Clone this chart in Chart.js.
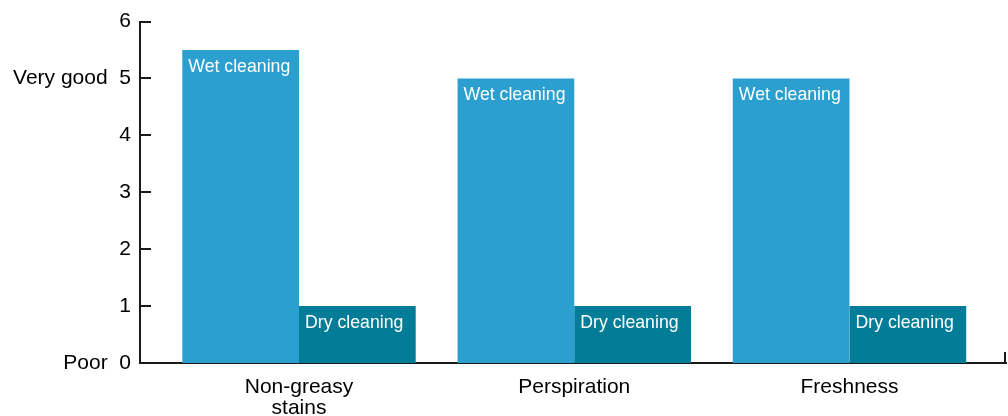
<!DOCTYPE html>
<html>
<head>
<meta charset="utf-8">
<script src="https://cdn.jsdelivr.net/npm/chart.js@4"></script>
<style>
  html, body { margin: 0; padding: 0; background: #fff; }
  #wrap { width: 1008px; height: 416px; position: relative; }
</style>
</head>
<body>
<div id="wrap"><canvas id="c"></canvas></div>
<script>
// ---- data ----
const categories = [["Non-greasy", "stains"], "Perspiration", "Freshness"];
const seriesNames = ["Wet cleaning", "Dry cleaning"];
const wetValues = [5.5, 5, 5];
const dryValues = [1, 1, 1];
const yTickLabels = { 0: "Poor  0", 5: "Very good  5" };

const FONT = "'Liberation Sans', Arial, Helvetica, sans-serif";
const AXIS_COLOR = "#1a1a1a";

// positions of categories on the linear index axis
const catIdx = categories.map((_, i) => i);

const barLabelPlugin = {
  id: 'barLabels',
  afterDatasetsDraw(chart) {
    const ctx = chart.ctx;
    ctx.save();
    ctx.fillStyle = '#ffffff';
    ctx.font = "17.7px " + FONT;
    ctx.textAlign = 'left';
    ctx.textBaseline = 'alphabetic';
    chart.data.datasets.forEach((ds, di) => {
      const meta = chart.getDatasetMeta(di);
      meta.data.forEach(bar => {
        const left = bar.x - bar.width / 2;
        ctx.fillText(ds.label, left + 6, bar.y + 21.5);
      });
    });
    ctx.restore();
  }
};

const axisDecorPlugin = {
  id: 'axisDecor',
  afterDraw(chart) {
    const ctx = chart.ctx;
    const y = chart.scales.y;
    const ca = chart.chartArea;
    ctx.save();
    ctx.strokeStyle = AXIS_COLOR;
    ctx.lineWidth = 2;
    ctx.beginPath();
    y.ticks.forEach(t => {
      const py = Math.round(y.getPixelForValue(t.value));
      ctx.moveTo(ca.left, py);
      ctx.lineTo(ca.left + 11, py);
    });
    // small end tick at right end of x axis
    ctx.moveTo(ca.right - 1, ca.bottom);
    ctx.lineTo(ca.right - 1, ca.bottom - 11);
    ctx.stroke();
    ctx.restore();
  }
};

new Chart(document.getElementById('c'), {
  type: 'bar',
  data: {
    datasets: [
      {
        label: seriesNames[0],
        data: catIdx.map((c, i) => ({ x: c, y: wetValues[i] })),
        backgroundColor: '#2b9fd0',
        borderWidth: 0
      },
      {
        label: seriesNames[1],
        data: catIdx.map((c, i) => ({ x: c, y: dryValues[i] })),
        backgroundColor: '#037c98',
        borderWidth: 0
      }
    ]
  },
  options: {
    responsive: true,
    maintainAspectRatio: false,
    animation: false,
    events: [],
    categoryPercentage: 0.848,
    barPercentage: 1.0,
    layout: { padding: { top: 20, right: 2, left: 0, bottom: 0 } },
    plugins: {
      legend: { display: false },
      tooltip: { enabled: false }
    },
    scales: {
      x: {
        type: 'linear',
        offset: false,
        bounds: 'data',
        min: -0.5777,
        max: 2.5686,
        grid: { display: false, drawTicks: false, offset: false },
        border: { display: true, color: AXIS_COLOR, width: 2 },
        afterBuildTicks(scale) {
          scale.ticks = catIdx.map(v => ({ value: v }));
        },
        afterFit(scale) { scale.height = 53; },
        ticks: {
          autoSkip: false,
          maxRotation: 0,
          padding: 13.5,
          color: '#000',
          font: { family: FONT, size: 21, lineHeight: 1.0 },
          callback(value) { return categories[value]; }
        }
      },
      y: {
        min: 0,
        max: 6,
        afterFit(scale) { scale.width = 140; },
        grid: { display: false, drawTicks: false },
        border: { display: true, color: AXIS_COLOR, width: 2 },
        ticks: {
          stepSize: 1,
          padding: 9,
          color: '#000',
          font: { family: FONT, size: 21 },
          callback(value) { return yTickLabels[value] !== undefined ? yTickLabels[value] : String(value); }
        }
      }
    }
  },
  plugins: [barLabelPlugin, axisDecorPlugin]
});
</script>
</body>
</html>
